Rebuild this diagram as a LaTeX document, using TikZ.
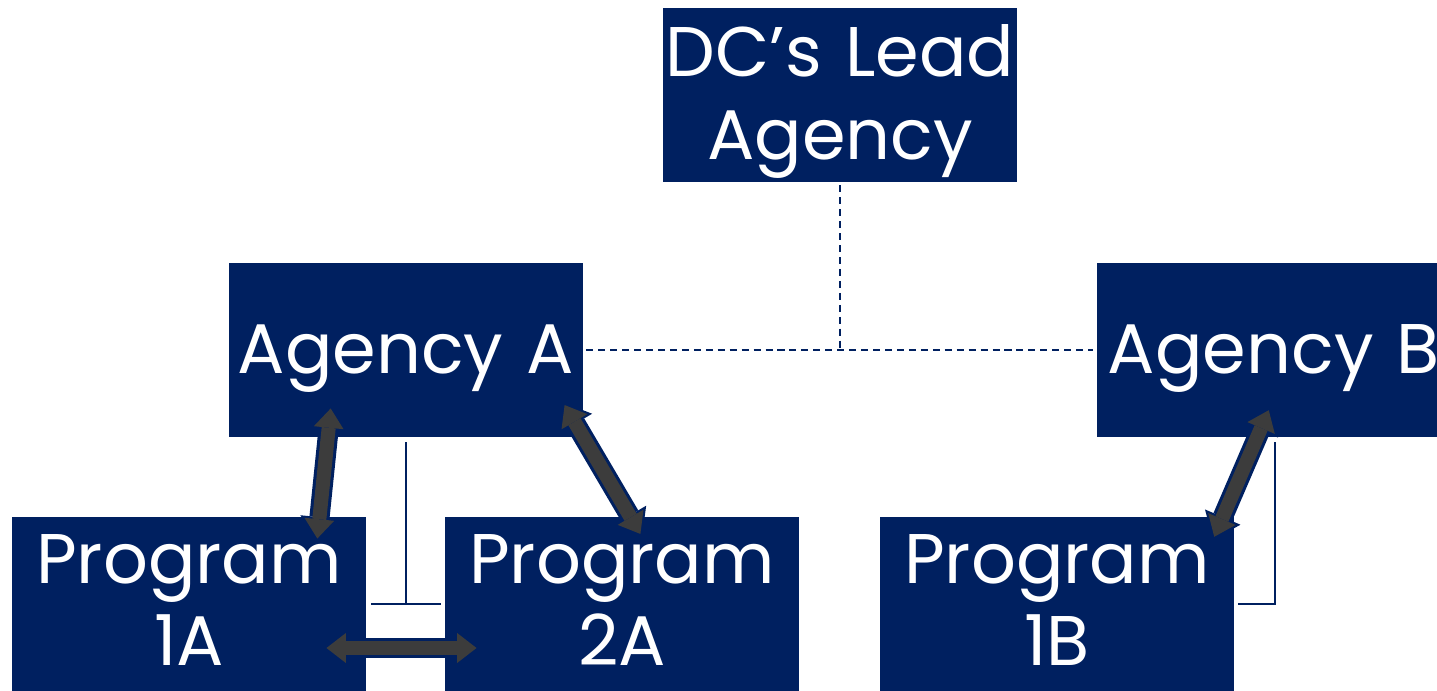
\documentclass[tikz,border=0pt]{standalone}
\usepackage{fontspec}
\setmainfont{Poppins}
\usetikzlibrary{arrows.meta,calc}
\definecolor{navy}{RGB}{0,32,96}
\definecolor{arrowgray}{RGB}{60,60,60}
% struts to push box text down (first line) or up (last line)
\newcommand{\boxtop}{\rule{0pt}{37pt}}
\newcommand{\boxfoot}{\rule[-4.5pt]{0pt}{4.5pt}}

\begin{document}
\begin{tikzpicture}[%
      x=0.02cm, y=-0.02cm,
      box/.style={fill=navy, text=white, text width=7.08cm, minimum height=3.48cm,
                  inner sep=0pt, align=center, font=\fontsize{40}{47}\selectfont},
      link/.style={draw=navy, line width=1.6pt},
      dotlink/.style={draw=navy, line width=1.2pt, dash pattern=on 4pt off 2.8pt},
      twoway/.style={draw=arrowgray, line width=8pt, <->,
                  >={Triangle[width=17pt,length=11pt,line width=0pt]},
                  shorten <=1.8pt, shorten >=1.8pt,
                  preaction={draw=navy, line width=11.5pt,
                  >={Triangle[width=22pt,length=14pt,line width=0pt]},
                  shorten <=0pt, shorten >=0pt}},
      ]
      \useasboundingbox (0,0) rectangle (1437,690);
      \clip (0,0) rectangle (1437,690);

      % boxes
      \node [box] (lead)    at (840,95)   {\boxtop DC’s~Lead\\Agency};
      \node [box] (agencyA) at (406,350)  {\boxtop Agency~A};
      \node [box] (agencyB) at (1274,350) {\boxtop Agency~B};
      \node [box] (prog1A)  at (189,604)  {Program\\1A\boxfoot};
      \node [box] (prog2A)  at (622,604)  {Program\\2A\boxfoot};
      \node [box] (prog1B)  at (1057,604) {Program\\1B\boxfoot};

      % dashed tie to the lead agency
      \draw [dotlink] ($(lead.south)+(0,3)$) -- (lead.south |- agencyA.east);
      \draw [dotlink] ($(agencyA.east)+(3,0)$) -- ($(agencyB.west)+(-4,0)$);

      % solid brackets
      \draw [link] ($(agencyA.south)+(0,5)$) -- (agencyA.south |- prog1A.east);
      \draw [link] ($(prog1A.east)+(5,0)$) -- ($(prog2A.west)+(-4,0)$);
      \draw [link] ($(agencyB.south)+(1,5)$) -- ($(agencyB.south |- prog1B.east)+(1,0)$)
                   -- ($(prog1B.east)+(4,0)$);

      % two-way arrows
      \draw [twoway] ($(agencyA.south)+(-75,-32)$) -- ($(prog1A.north)+(128,25)$);
      \draw [twoway] ($(agencyA.south)+(157,-35)$) -- ($(prog2A.north)+(20,20)$);
      \draw [twoway] ($(agencyB.south)+(-4,-30)$) -- ($(prog1B.north)+(156,23)$);
      \draw [twoway] ($(prog1A.east)+(-43,44)$) -- ($(prog2A.west)+(35,44)$);
\end{tikzpicture}
\end{document}
